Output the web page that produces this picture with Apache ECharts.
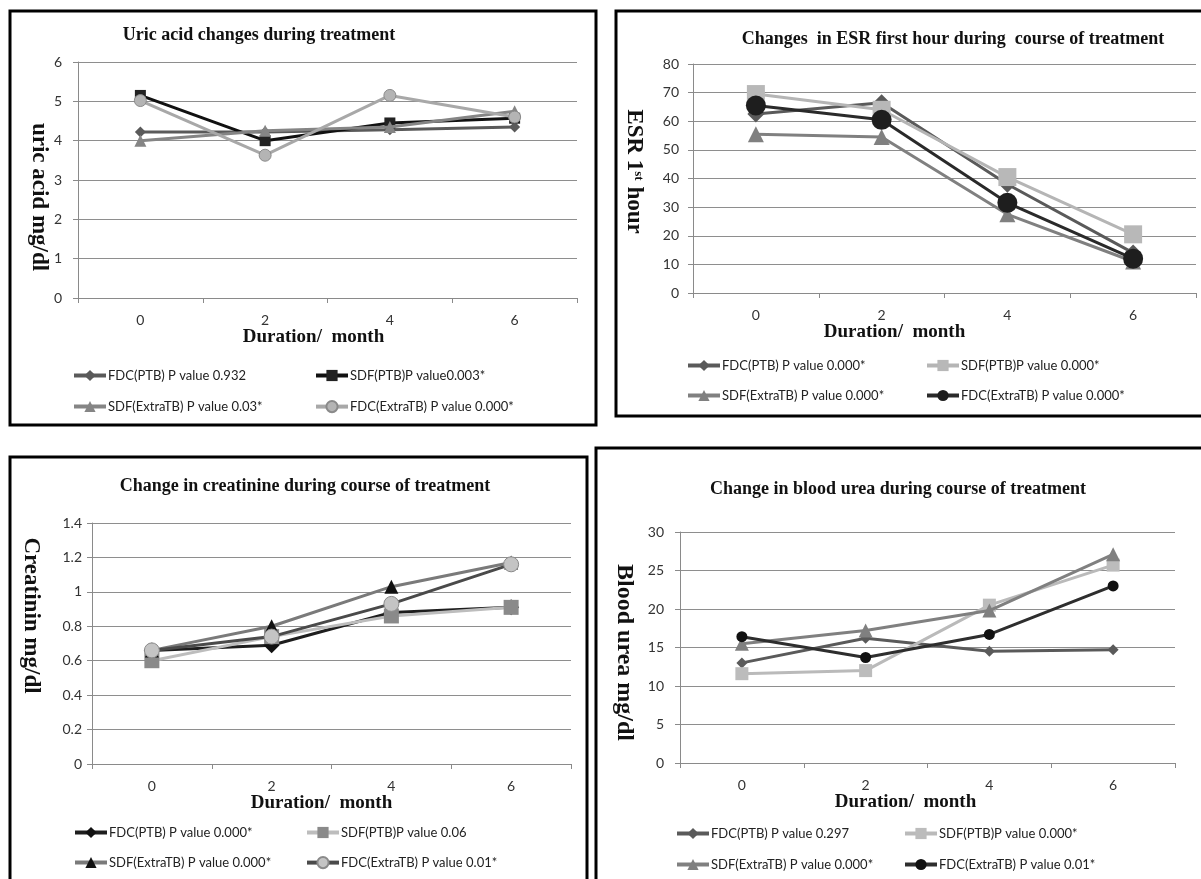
<!DOCTYPE html>
<html>
<head>
<meta charset="utf-8">
<style>
html,body{margin:0;padding:0;background:#fff;}
#chart{width:1201px;height:879px;}
</style>
<script src="https://cdn.jsdelivr.net/npm/echarts@6/dist/echarts.min.js"></script>
</head>
<body>
<div id="chart"></div>
<script>
// ---------- data ----------
const categories = ['0', '2', '4', '6'];

const uricNames = ['FDC(PTB) P value 0.932', 'SDF(PTB)P value0.003*', 'SDF(ExtraTB) P value 0.03*', 'FDC(ExtraTB) P value 0.000*'];
const uricFdcPtb   = [4.22, 4.22, 4.28, 4.35];
const uricSdfPtb   = [5.15, 4.00, 4.45, 4.57];
const uricSdfExtra = [4.00, 4.25, 4.35, 4.75];
const uricFdcExtra = [5.02, 3.63, 5.15, 4.60];

const esrNames = ['FDC(PTB) P value 0.000*', 'SDF(PTB)P value 0.000*', 'SDF(ExtraTB) P value 0.000*', 'FDC(ExtraTB) P value 0.000*'];
const esrFdcPtb   = [62.5, 66.5, 38.0, 14.0];
const esrSdfPtb   = [69.5, 64.0, 40.5, 20.5];
const esrSdfExtra = [55.5, 54.5, 27.5, 11.0];
const esrFdcExtra = [65.5, 60.5, 31.5, 12.0];

const crNames = ['FDC(PTB) P value 0.000*', 'SDF(PTB)P value 0.06', 'SDF(ExtraTB) P value 0.000*', 'FDC(ExtraTB) P value 0.01*'];
const crFdcPtb   = [0.66, 0.69, 0.88, 0.91];
const crSdfPtb   = [0.60, 0.74, 0.86, 0.91];
const crSdfExtra = [0.66, 0.80, 1.03, 1.17];
const crFdcExtra = [0.66, 0.74, 0.93, 1.16];

const ureaNames = ['FDC(PTB) P value 0.297', 'SDF(PTB)P value 0.000*', 'SDF(ExtraTB) P value 0.000*', 'FDC(ExtraTB) P value 0.01*'];
const ureaFdcPtb   = [13.0, 16.2, 14.5, 14.7];
const ureaSdfPtb   = [11.6, 12.0, 20.5, 25.7];
const ureaSdfExtra = [15.5, 17.2, 19.8, 27.1];
const ureaFdcExtra = [16.4, 13.7, 16.7, 23.0];

const titles = [
  'Uric acid changes during treatment',
  'Changes  in ESR first hour during  course of treatment',
  'Change in creatinine during course of treatment',
  'Change in blood urea during course of treatment'
];
const xName = 'Duration/  month';
const yNames = ['uric acid mg/dl', '{a|ESR 1}{s|st}{a| hour}', 'Creatinin mg/dl', 'Blood urea mg/dl'];
const yRanges = [[0, 6, 1], [0, 80, 10], [0, 1.4, 0.2], [0, 30, 5]];

// ---------- styling ----------
const serif = '"Liberation Serif", "DejaVu Serif", serif';
const sans = 'Lato, "Open Sans", sans-serif';

const grids = [
  {left: 78, top: 62, width: 499, height: 236},
  {left: 693, top: 64, width: 503, height: 229},
  {left: 92, top: 523, width: 479, height: 241},
  {left: 680, top: 532, width: 495, height: 231}
];
const titlePos = [[254, 21], [948, 25], [300, 472], [893, 475]];
const yNameGap = [26, 48, 50, 44];
const yNamePad = [[0, 0, 0, 34], [0, 14, 0, 0], [0, 56, 0, 0], [0, 0, 0, 10]];
const yFont = [23, 23, 23, 24];
const yLabelMargin = [16, 14, 10, 16];
const xNameGap = [21, 20, 25, 27];
const xNamePad = [[0, 28, 0, 0], [0, 100, 0, 0], [0, 20, 0, 0], [0, 44, 0, 0]];

// series styles per panel: [lineColor, symbol, markerColor, markerBorder, size]
const styles = [
  [['#5a5a5a','diamond','#5a5a5a',null,11], ['#111111','rect','#222222',null,11], ['#858585','triangle','#858585',null,12], ['#a8a8a8','circle','#b4b4b4','#8a8a8a',12]],
  [['#5a5a5a','diamond','#5a5a5a',null,17], ['#b5b5b5','rect','#b8b8b8',null,18], ['#808080','triangle','#808080',null,16], ['#2a2a2a','circle','#1e1e1e',null,20]],
  [['#1e1e1e','diamond','#111111',null,16], ['#bdbdbd','rect','#8a8a8a',null,15], ['#7a7a7a','triangle','#111111',null,14], ['#4a4a4a','circle','#c4c4c4','#8a8a8a',15]],
  [['#5a5a5a','diamond','#5a5a5a',null,11], ['#bababa','rect','#bcbcbc',null,13], ['#808080','triangle','#808080',null,14], ['#2e2e2e','circle','#111111',null,11]]
];
const panelData = [
  [uricFdcPtb, uricSdfPtb, uricSdfExtra, uricFdcExtra],
  [esrFdcPtb, esrSdfPtb, esrSdfExtra, esrFdcExtra],
  [crFdcPtb, crSdfPtb, crSdfExtra, crFdcExtra],
  [ureaFdcPtb, ureaSdfPtb, ureaSdfExtra, ureaFdcExtra]
];
const panelNames = [uricNames, esrNames, crNames, ureaNames];
// legend columns: [col1 left, col2 left, top, row gap]
const legendPos = [[67, 309, 364, 18], [681, 920, 354, 17], [68, 300, 821, 17], [670, 898, 822, 18]];

const option = {
  backgroundColor: '#ffffff',
  animation: false,
  title: [], grid: [], xAxis: [], yAxis: [], series: [], legend: [],
  graphic: [
    {type: 'rect', shape: {x: 10, y: 11, width: 586, height: 414}, style: {fill: 'none', stroke: '#000', lineWidth: 3}},
    {type: 'rect', shape: {x: 616, y: 11, width: 600, height: 405}, style: {fill: 'none', stroke: '#000', lineWidth: 3}},
    {type: 'rect', shape: {x: 10, y: 457, width: 577, height: 440}, style: {fill: 'none', stroke: '#000', lineWidth: 3}},
    {type: 'rect', shape: {x: 596, y: 448, width: 620, height: 450}, style: {fill: 'none', stroke: '#000', lineWidth: 3}}
  ]
};

for (let p = 0; p < 4; p++) {
  option.title.push({
    text: titles[p], left: titlePos[p][0], top: titlePos[p][1], textAlign: 'center',
    textStyle: {fontFamily: serif, fontWeight: 'bold', fontSize: 18, color: '#111'}
  });
  option.grid.push(Object.assign({containLabel: false}, grids[p]));
  option.xAxis.push({
    type: 'category', gridIndex: p, data: categories, boundaryGap: true,
    name: xName, nameLocation: 'middle', nameGap: xNameGap[p],
    nameTextStyle: {fontFamily: serif, fontWeight: 'bold', fontSize: 19, color: '#111', padding: xNamePad[p]},
    axisLine: {lineStyle: {color: '#8a8a8a', width: 1}},
    axisTick: {show: true, length: 5, lineStyle: {color: '#8a8a8a'}},
    axisLabel: {fontFamily: sans, fontSize: 14, color: '#333', margin: 15},
    splitLine: {show: false}
  });
  option.yAxis.push({
    type: 'value', gridIndex: p, min: yRanges[p][0], max: yRanges[p][1], interval: yRanges[p][2],
    name: yNames[p], nameLocation: 'middle', nameRotate: -90, nameGap: yNameGap[p],
    nameTextStyle: {
      fontFamily: serif, fontWeight: 'bold', fontSize: yFont[p], color: '#111', padding: yNamePad[p],
      rich: {
        a: {fontFamily: serif, fontWeight: 'bold', fontSize: yFont[p], color: '#111'},
        s: {fontFamily: serif, fontWeight: 'bold', fontSize: 13, color: '#111', padding: [0, 0, 10, 0]}
      }
    },
    axisLine: {show: true, lineStyle: {color: '#8a8a8a', width: 1}},
    axisTick: {show: true, length: 5, lineStyle: {color: '#8a8a8a'}},
    axisLabel: {fontFamily: sans, fontSize: 14, color: '#333', margin: yLabelMargin[p]},
    splitLine: {show: true, lineStyle: {color: '#8e8e8e', width: 1}}
  });
  const names = panelNames[p];
  for (let s = 0; s < 4; s++) {
    const st = styles[p][s];
    option.series.push({
      type: 'line', name: 'p' + p + '|' + names[s], xAxisIndex: p, yAxisIndex: p,
      data: panelData[p][s],
      symbol: st[1], symbolSize: st[4], showSymbol: true,
      lineStyle: {color: st[0], width: 3},
      itemStyle: {color: st[2], borderColor: st[3] || st[2], borderWidth: st[3] ? 1 : 0, opacity: 1},
      z: 2 + s
    });
  }
  const lp = legendPos[p];
  const common = {
    orient: 'vertical', top: lp[2], itemWidth: 32, itemHeight: 14, itemGap: lp[3],
    textStyle: {fontFamily: sans, fontSize: 13, color: '#222', padding: [0, 0, 0, -3]},
    lineStyle: {width: 4},
    formatter: function (n) { return n.split('|')[1]; },
    selectedMode: false
  };
  option.legend.push(Object.assign({}, common, {left: lp[0], data: ['p' + p + '|' + names[0], 'p' + p + '|' + names[2]]}));
  option.legend.push(Object.assign({}, common, {left: lp[1], data: ['p' + p + '|' + names[1], 'p' + p + '|' + names[3]]}));
}

const chart = echarts.init(document.getElementById('chart'), null, {renderer: 'canvas'});
chart.setOption(option);
</script>
</body>
</html>
